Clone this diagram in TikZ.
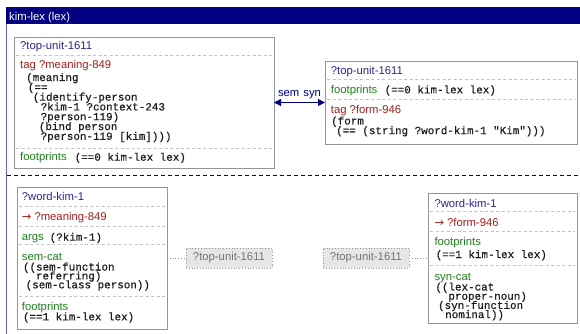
\documentclass[tikz,border=0pt]{standalone}
\usepackage{fontspec}
\setmainfont{Liberation Sans}
\setmonofont[FakeBold=0.6]{Liberation Mono}
\newfontfamily\arrowfont{DejaVu Sans}
\usetikzlibrary{arrows.meta}

\definecolor{navy}{RGB}{0,0,128}
\definecolor{leftblue}{RGB}{100,100,180}
\definecolor{hdrblue}{RGB}{40,40,140}
\definecolor{tagred}{RGB}{160,30,30}
\definecolor{featgreen}{RGB}{30,130,30}
\definecolor{codeblack}{RGB}{30,30,30}
\definecolor{boxgray}{RGB}{150,150,150}
\definecolor{sepgray}{RGB}{195,195,195}
\definecolor{reffill}{RGB}{230,230,230}
\definecolor{refgray}{RGB}{150,150,150}
\definecolor{reftext}{RGB}{115,115,115}

% one line of a code block, shifted right by #1 pt
\newcommand\codeln[2]{\hbox{\hskip#1pt\relax #2}}
% a code block whose baseline is that of its first line; #1 = line distance
\newcommand\codeblock[2]{\vtop{\baselineskip=#1pt\lineskiplimit=-100pt #2}}
% the arrow in front of a tag reference
\newcommand\tagarrow{{\arrowfont →}}

\begin{document}
\begin{tikzpicture}[x=1pt,y=-1pt,
  unitbox/.style={draw=boxgray, line width=0.9pt, fill=white, inner sep=0pt,
    outer sep=0pt, anchor=north west},
  sepline/.style={draw=sepgray, line width=0.8pt, dash pattern=on 3pt off 2.5pt},
  lbl/.style={inner sep=0pt, anchor=base west, font=\fontsize{11.3}{13}\selectfont},
  hdr/.style={lbl, text=hdrblue},
  tagt/.style={lbl, text=tagred},
  feat/.style={lbl, text=featgreen},
  code/.style={inner sep=0pt, anchor=base west,
    font=\ttfamily\fontsize{10.9}{9.8}\selectfont, text=codeblack},
  refbox/.style={draw=refgray, dotted, line width=0.8pt, fill=reffill, text=reftext,
    font=\fontsize{11.3}{13}\selectfont, minimum width=86pt, minimum height=20pt,
    inner sep=0pt, outer sep=0pt},
  refline/.style={draw=refgray, dotted, line width=0.8pt},
  link/.style={draw=navy, line width=1pt,
    {Triangle[length=7pt,width=7pt]}-{Triangle[length=7pt,width=7pt]}}
]
\useasboundingbox (0,0) rectangle (580,334);

% frame: title bar, left rule and the divider between the two parts
\node[fill=navy, minimum width=574pt, minimum height=17pt, inner sep=0pt,
  anchor=north west] (bar) at (6,7) {};
\node[lbl, text=white] (title) at (9,21) {kim-lex (lex)};
\draw[leftblue, line width=1pt] (6.5,24) -- (6.5,334);
\draw[navy, line width=0.9pt, dash pattern=on 4pt off 3pt] (7,175) -- (580,175);

% ---- upper left unit
\node[unitbox, minimum width=260pt, minimum height=131pt] (tl) at (14,37) {};
\node[hdr] (tlh) at (20,50) {?top-unit-1611};
\draw[sepline] (16,55) -- (272,55);
\node[tagt] (tlt) at (20,69) {tag ?meaning-849};
\node[code] (tlc) at (26,81) {\codeblock{9.8}{%
  \codeln{0}{(meaning}
  \codeln{1.7}{(==}
  \codeln{6.7}{(identify-person}
  \codeln{14.5}{?kim-1 ?context-243}
  \codeln{14.5}{?person-119)}
  \codeln{12.7}{(bind person}
  \codeln{14.5}{?person-119 [kim])))}}};
\draw[sepline] (16,148.3) -- (272,148.3);
\node[feat] (tlf) at (20,160.7) {footprints};
\node[code] (tlfv) at (74.5,160.7) {(==0 kim-lex lex)};

% ---- upper right unit
\node[unitbox, minimum width=252pt, minimum height=83pt] (tr) at (325,61) {};
\node[hdr] (trh) at (330.7,75) {?top-unit-1611};
\draw[sepline] (327,79.3) -- (575,79.3);
\node[feat] (trf) at (330.7,93.3) {footprints};
\node[code] (trfv) at (384.5,93.3) {(==0 kim-lex lex)};
\draw[sepline] (327,99) -- (575,99);
\node[tagt] (trt) at (330.7,113.3) {tag ?form-946};
\node[code] (trc) at (331,124.5) {\codeblock{9.6}{%
  \codeln{0}{(form}
  \codeln{5}{(== (string ?word-kim-1 "Kim")))}}};

% sem/syn link between the two top units
\draw[link] (tl.east) -- (tr.west)
  node[pos=0.5, anchor=base, yshift=6.5pt, inner sep=0pt, text=navy,
    font=\fontsize{11.3}{13}\selectfont] (ss) {sem\hspace{4pt}syn};

% ---- lower left unit
\node[unitbox, minimum width=150pt, minimum height=142pt] (bl) at (17,187) {};
\node[hdr] (blh) at (21.7,200.7) {?word-kim-1};
\draw[sepline] (19,206) -- (165,206);
\node[tagt] (blt) at (21.7,220.7) {\tagarrow\ ?meaning-849};
\draw[sepline] (19,226.7) -- (165,226.7);
\node[feat] (bla) at (21.7,240.7) {args};
\node[code] (blav) at (49.5,240.7) {(?kim-1)};
\draw[sepline] (19,244) -- (165,244);
\node[feat] (bls) at (21.7,260) {sem-cat};
\node[code] (blc) at (22.8,270.5) {\codeblock{8.9}{%
  \codeln{0}{((sem-function}
  \codeln{13}{referring)}
  \codeln{2.7}{(sem-class person))}}};
\draw[sepline] (19,296) -- (165,296);
\node[feat] (blf) at (21.7,310) {footprints};
\node[code] (blfv) at (22.8,320.3) {(==1 kim-lex lex)};

% ---- lower right unit
\node[unitbox, minimum width=149pt, minimum height=130pt] (br) at (428,193) {};
\node[hdr] (brh) at (434.3,207.3) {?word-kim-1};
\draw[sepline] (430,211.7) -- (575,211.7);
\node[tagt] (brt) at (434.3,226.3) {\tagarrow\ ?form-946};
\draw[sepline] (430,231.7) -- (575,231.7);
\node[feat] (brf) at (434.3,245.7) {footprints};
\node[code] (brfv) at (435.5,258) {(==1 kim-lex lex)};
\draw[sepline] (430,265.7) -- (575,265.7);
\node[feat] (brs) at (434.3,280) {syn-cat};
\node[code] (brc) at (435.2,290.5) {\codeblock{9.2}{%
  \codeln{0}{((lex-cat}
  \codeln{13}{proper-noun)}
  \codeln{2.7}{(syn-function}
  \codeln{9.8}{nominal))}}};

% references to the parent unit
\node[refbox] (r1) at (229,258) {?top-unit-1611};
\node[refbox] (r2) at (366,258) {?top-unit-1611};
\draw[refline] (bl.east) -- (r1.west);
\draw[refline] (r2.east) -- (br.west);
\end{tikzpicture}
\end{document}
